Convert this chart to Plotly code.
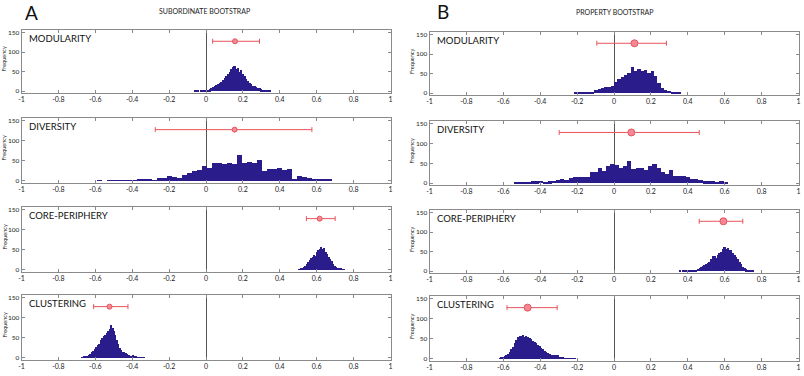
import plotly.graph_objects as go
import numpy as np

W, H = 804, 376

# ---------------- data ----------------
x_tickvals = [-1, -0.8, -0.6, -0.4, -0.2, 0, 0.2, 0.4, 0.6, 0.8, 1]
x_ticktext = ["-1", "-0.8", "-0.6", "-0.4", "-0.2", "0", "0.2", "0.4", "0.6", "0.8", "1"]
y_tickvals = [0, 50, 100, 150]
panel_names = ["MODULARITY", "DIVERSITY", "CORE-PERIPHERY", "CLUSTERING"]

# Subordinate bootstrap histograms (bin start, bin width, counts)
sub_mod_start, sub_mod_width = -0.067, 0.009
sub_mod_counts = [1, 2, 1, 0, 1, 2, 1, 0,
                  2, 5, 7, 10, 13, 15, 18, 21, 24, 28, 33, 38, 45, 50, 56, 61, 64, 57, 60, 50,
                  53, 44, 40, 30, 26, 20, 17, 14, 12, 10, 8, 7, 5, 4, 3, 2, 2, 1]

sub_div_start, sub_div_width = -0.591, 0.0271
sub_div_counts = [1, 0, 1, 1, 1, 2, 2, 2, 3, 3, 5, 1, 8, 8, 13, 11, 7, 15, 19, 26, 27, 38,
                  33, 45, 45, 42, 44, 42, 66, 45, 48, 46, 52, 24, 29, 29, 33, 27, 31, 4, 13,
                  9, 8, 6, 4, 3, 3]

sub_core_start, sub_core_width = 0.500, 0.008
sub_core_counts = [2, 4, 5, 8, 11, 15, 20, 24, 30, 33, 38, 36, 44, 50, 53, 57, 52, 54, 45,
                   40, 33, 27, 22, 15, 10, 7, 5, 4, 3, 2, 1]

sub_clu_start, sub_clu_width = -0.680, 0.008
sub_clu_counts = [1, 2, 3, 4, 6, 8, 10, 14, 18, 22, 28, 32, 36, 44, 50, 55, 58, 62, 68, 73,
                  83, 75, 68, 57, 46, 35, 26, 20, 16, 14, 12, 9, 8, 6, 5, 7, 4, 3, 2, 2, 1, 1, 1]

# Property bootstrap histograms
prop_mod_start, prop_mod_width = -0.218, 0.018
prop_mod_counts = [1, 1, 4, 1, 2, 4, 7, 10, 13, 15, 16, 18, 28, 35, 41, 46, 52, 66, 56, 63,
                   58, 60, 52, 56, 44, 26, 12, 9, 6, 3, 2, 1]

prop_div_start, prop_div_width = -0.544, 0.0227
prop_div_counts = [2, 2, 3, 3, 4, 5, 6, 3, 4, 6, 8, 10, 8, 12, 14, 15, 15, 14, 27, 29, 39,
                   31, 42, 47, 45, 39, 44, 55, 36, 37, 38, 33, 43, 48, 38, 27, 23, 33, 18, 18,
                   19, 15, 9, 10, 7, 4, 4, 4, 2, 4, 1]

prop_core_start, prop_core_width = 0.350, 0.009
prop_core_counts = [1, 0, 1, 1, 2, 1, 2, 3, 2, 4, 4, 6, 8, 10, 12, 15, 17, 20, 24, 30, 38,
                    40, 34, 42, 46, 50, 57, 63, 58, 60, 53, 55, 47, 42, 36, 30, 23, 17, 11, 7,
                    5, 4, 3, 2, 1]

prop_clu_start, prop_clu_width = -0.625, 0.009
prop_clu_counts = [2, 4, 5, 7, 10, 12, 18, 24, 30, 40, 47, 54, 58, 57, 59, 56, 58, 55, 52,
                   50, 46, 42, 40, 35, 32, 28, 24, 20, 17, 14, 12, 11, 9, 10, 9, 10, 6, 4, 3,
                   2, 2, 1, 1, 1, 1, 1]

# Confidence intervals (mean, low, high), drawn at a fixed height
sub_mean = [0.157, 0.155, 0.616, -0.523]
sub_lo = [0.036, -0.275, 0.544, -0.609]
sub_hi = [0.290, 0.574, 0.700, -0.423]
prop_mean = [0.111, 0.094, 0.593, -0.468]
prop_lo = [-0.093, -0.297, 0.462, -0.580]
prop_hi = [0.284, 0.462, 0.698, -0.308]
ci_height = 128

# ---------------- layout geometry (pixels) ----------------
left_x = (21.5, 390.5)
right_x = (429.5, 798.5)
rows_left = [(30, 93), (118, 183), (207, 272), (295, 360)]
rows_right = [(32, 95), (121, 185), (210, 273), (296, 361)]

BAR_COLOR = "#2b1c8c"
CI_COLOR = "#e8545a"
CI_FILL = "#f58797"
FONT = "Lato"

sub_hists = [(sub_mod_start, sub_mod_width, sub_mod_counts),
             (sub_div_start, sub_div_width, sub_div_counts),
             (sub_core_start, sub_core_width, sub_core_counts),
             (sub_clu_start, sub_clu_width, sub_clu_counts)]
prop_hists = [(prop_mod_start, prop_mod_width, prop_mod_counts),
              (prop_div_start, prop_div_width, prop_div_counts),
              (prop_core_start, prop_core_width, prop_core_counts),
              (prop_clu_start, prop_clu_width, prop_clu_counts)]


def fx(px):
    return px / W


def fy(py):
    return 1 - py / H


fig = go.Figure()
layout = {}
annotations = []

panels = []
for i in range(4):
    panels.append(("L", i, left_x, rows_left[i], sub_hists[i], sub_mean[i], sub_lo[i], sub_hi[i], 5))
for i in range(4):
    panels.append(("R", i, right_x, rows_right[i], prop_hists[i], prop_mean[i], prop_lo[i], prop_hi[i], 7))

for n, (side, i, xr, yr, hist, m, lo, hi, msize) in enumerate(panels, start=1):
    start, width, counts = hist
    counts = np.array(counts, dtype=float)
    centers = start + width * (np.arange(len(counts)) + 0.5)
    xa = "x" if n == 1 else f"x{n}"
    ya = "y" if n == 1 else f"y{n}"
    fig.add_trace(go.Bar(x=centers, y=counts, width=width, marker=dict(color=BAR_COLOR, line=dict(width=0)),
                         xaxis=xa, yaxis=ya, showlegend=False, hoverinfo="x+y"))
    fig.add_trace(go.Scatter(x=[m], y=[ci_height], mode="markers", xaxis=xa, yaxis=ya, showlegend=False,
                             marker=dict(size=msize, color=CI_FILL, line=dict(color=CI_COLOR, width=1)),
                             error_x=dict(type="data", symmetric=False, array=[hi - m], arrayminus=[m - lo],
                                          color=CI_COLOR, thickness=1, width=2.5)))
    axis_common = dict(showline=True, linecolor="#8a8a8a", linewidth=1, mirror="allticks",
                       ticks="inside", ticklen=3, tickcolor="#8a8a8a", showgrid=False, automargin=False)
    layout["xaxis" if n == 1 else f"xaxis{n}"] = dict(
        domain=[fx(xr[0]), fx(xr[1])], anchor=ya, range=[-1, 1],
        tickvals=x_tickvals, ticktext=x_ticktext,
        tickfont=dict(family=FONT, size=7, color="#222"),
        zeroline=True, zerolinecolor="#555", zerolinewidth=1, **axis_common)
    layout["yaxis" if n == 1 else f"yaxis{n}"] = dict(
        domain=[fy(yr[1]), fy(yr[0])], anchor=xa, range=[-5, 157],
        tickvals=y_tickvals, zeroline=False,
        tickfont=dict(family=FONT, size=6.5, color="#222"), **axis_common)
    # panel title
    annotations.append(dict(text=panel_names[i], x=fx(xr[0] + 5), y=fy(yr[0] + 8.5), xref="paper", yref="paper",
                            xanchor="left", yanchor="middle", showarrow=False,
                            font=dict(family=FONT, size=9.5, color="#111")))
    # Frequency label
    fxpos = 4 if side == "L" else 411.5
    annotations.append(dict(text="Frequency", x=fx(fxpos), y=fy((yr[0] + yr[1]) / 2 - 2), xref="paper", yref="paper",
                            xanchor="center", yanchor="middle", showarrow=False, textangle=-90,
                            font=dict(family=FONT, size=5.5, color="#222")))

annotations += [
    dict(text="A", x=fx(23), y=fy(13), xref="paper", yref="paper", xanchor="left", yanchor="middle",
         showarrow=False, font=dict(family=FONT, size=19, color="#111")),
    dict(text="B", x=fx(435), y=fy(12), xref="paper", yref="paper", xanchor="left", yanchor="middle",
         showarrow=False, font=dict(family=FONT, size=19, color="#111")),
    dict(text="SUBORDINATE BOOTSTRAP", x=fx(205), y=fy(11), xref="paper", yref="paper", xanchor="center",
         yanchor="middle", showarrow=False, font=dict(family=FONT, size=7, color="#222")),
    dict(text="PROPERTY BOOTSTRAP", x=fx(615), y=fy(12), xref="paper", yref="paper", xanchor="center",
         yanchor="middle", showarrow=False, font=dict(family=FONT, size=7, color="#222")),
]

fig.update_layout(width=W, height=H, margin=dict(l=0, r=0, t=0, b=0), paper_bgcolor="white",
                  plot_bgcolor="white", bargap=0, annotations=annotations, **layout)

fig.write_html("out.html", config=dict(displayModeBar=False))
